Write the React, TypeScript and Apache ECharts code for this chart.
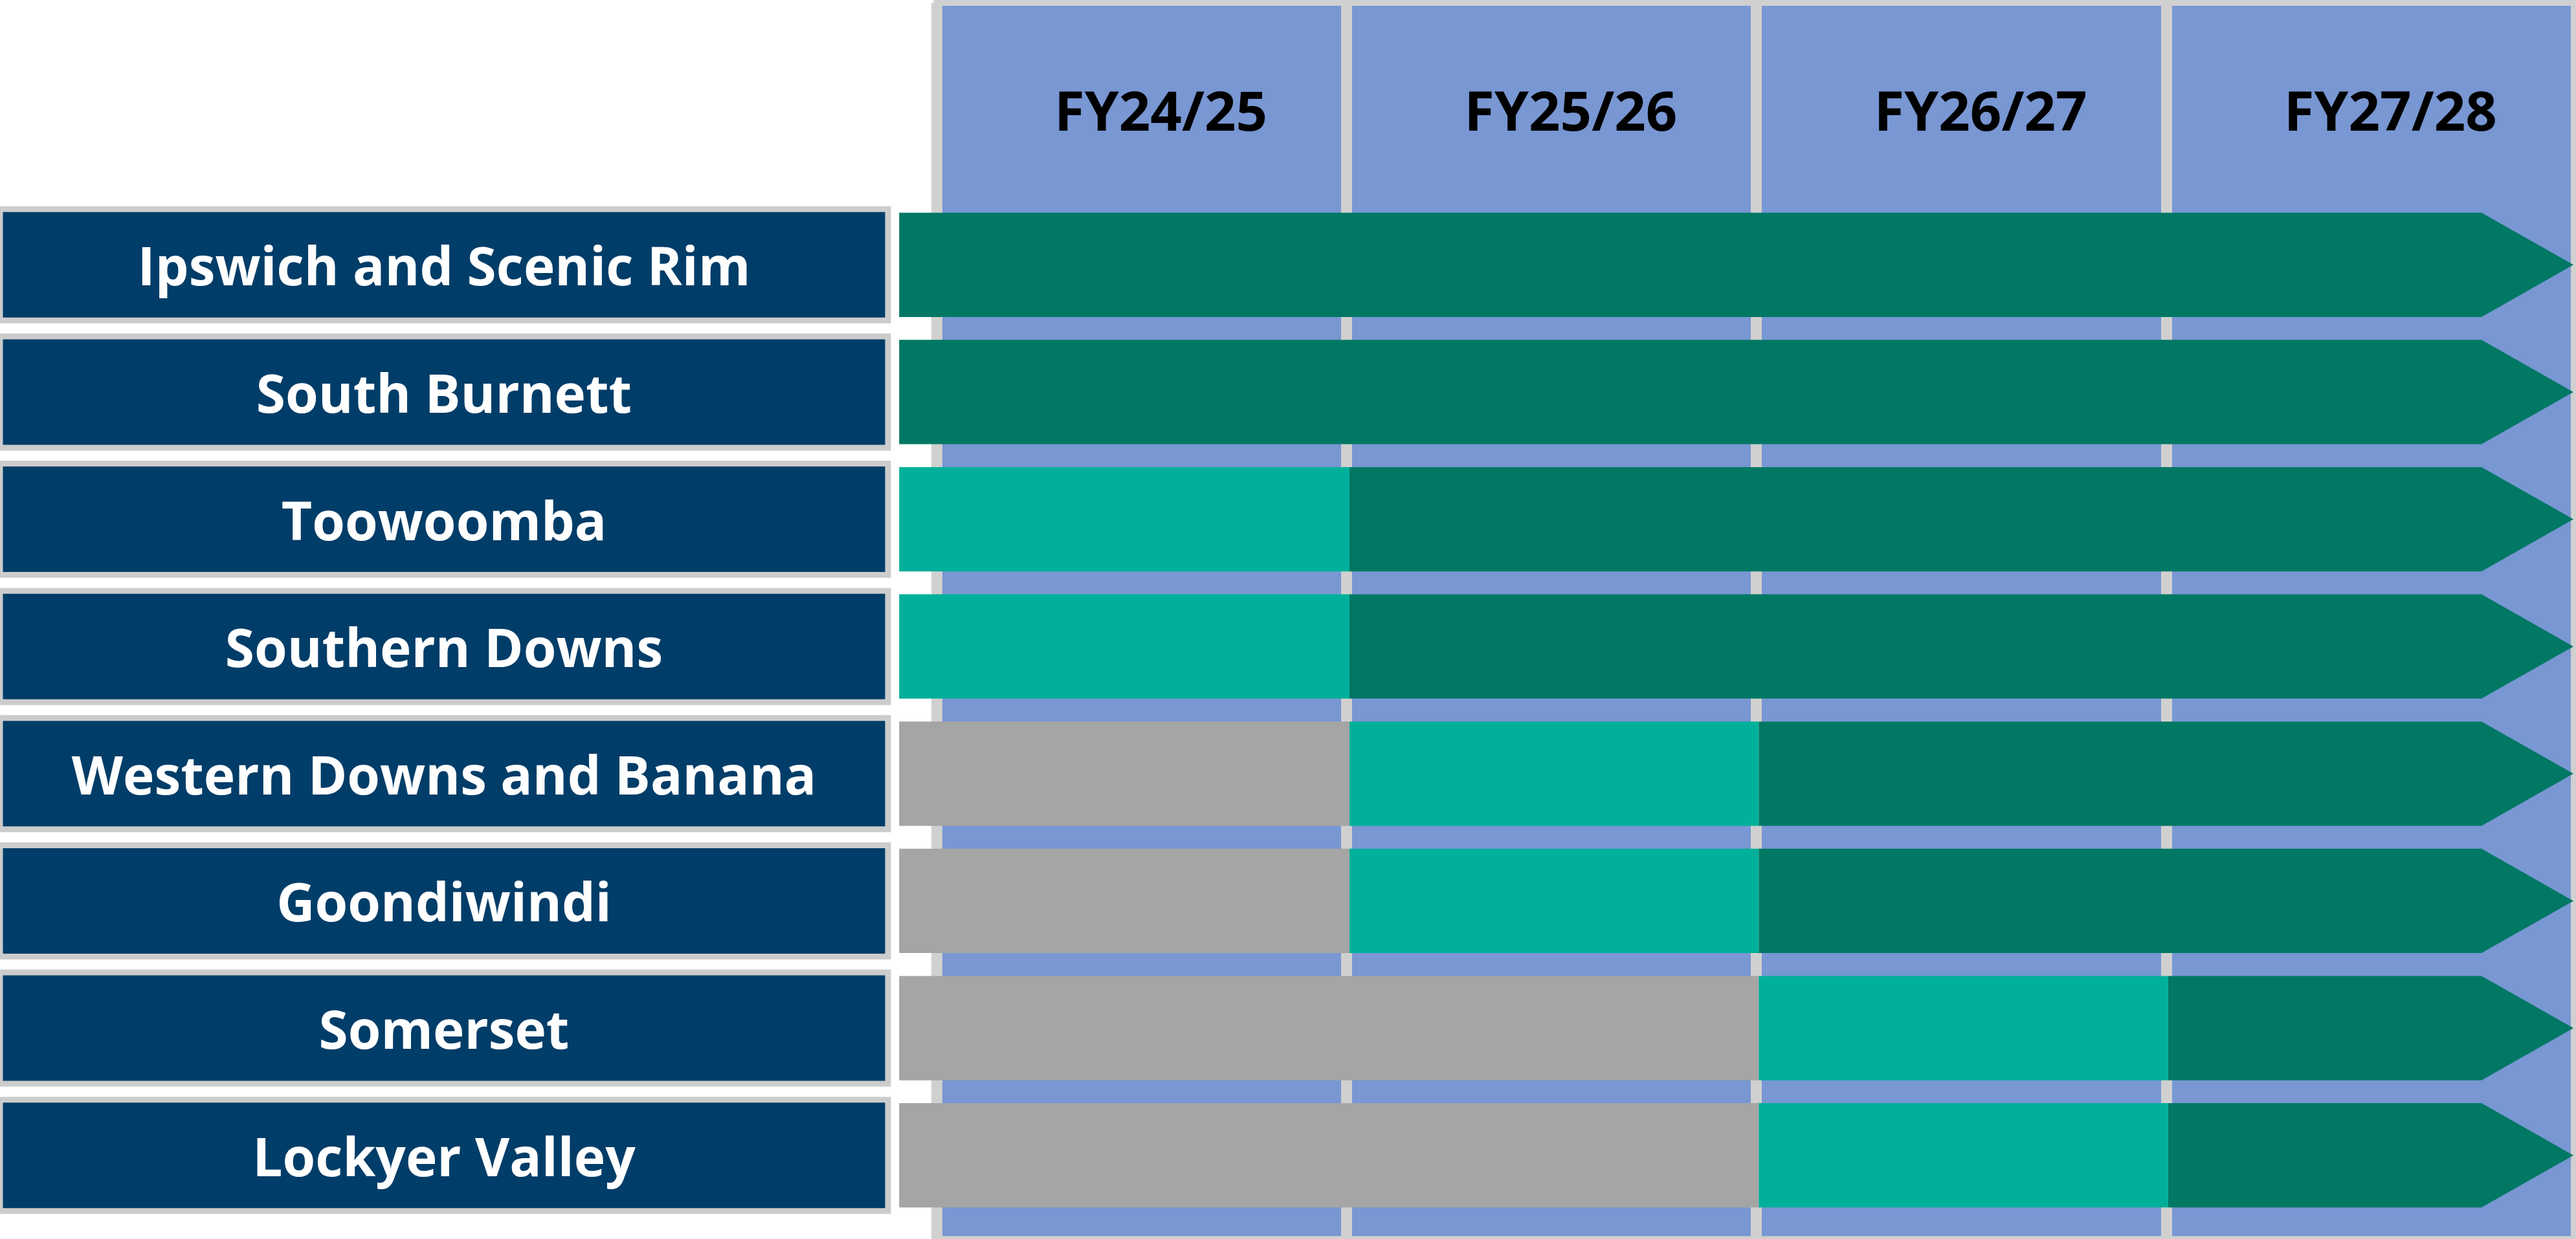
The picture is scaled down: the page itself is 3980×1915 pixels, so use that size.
import React, { useEffect, useRef } from "react";
import * as echarts from "echarts";

// ---- data ----
const regions = [
  "Ipswich and Scenic Rim",
  "South Burnett",
  "Toowoomba",
  "Southern Downs",
  "Western Downs and Banana",
  "Goondiwindi",
  "Somerset",
  "Lockyer Valley",
];
const years = ["FY24/25", "FY25/26", "FY26/27", "FY27/28"];
// timeline position, in financial-year columns (0 = start of FY24/25)
const rowStart = [-0.1, -0.1, -0.1, -0.1, -0.1, -0.1, -0.1, -0.1];
const greyEnd = [null, null, null, null, 1, 1, 2, 2];
const lightEnd = [null, null, 1, 1, 2, 2, 3, 3];
const darkEnd = [3.99, 3.99, 3.99, 3.99, 3.99, 3.99, 3.99, 3.99];

const NAVY = "#003D68";
const BOX_BORDER = "#CCCCCC";
const BLUE = "#7897D3";
const SEP = "#D0D0D0";
const GREY = "#A5A5A5";
const LIGHT = "#00B09A";
const DARK = "#007864";
const FONT = '"Open Sans", sans-serif';

function buildSegments() {
  const grey: number[][] = [];
  const light: number[][] = [];
  const dark: number[][] = [];
  regions.forEach((_, i) => {
    let cur = rowStart[i];
    if (greyEnd[i] != null) {
      grey.push([cur, greyEnd[i] as number, i]);
      cur = greyEnd[i] as number;
    }
    if (lightEnd[i] != null) {
      light.push([cur, lightEnd[i] as number, i]);
      cur = lightEnd[i] as number;
    }
    dark.push([cur, darkEnd[i], i]);
  });
  return { grey, light, dark };
}

function makeRender(color: string, arrow: boolean) {
  return (params: any, api: any) => {
    const s = api.value(0);
    const e = api.value(1);
    const r = api.value(2);
    const p0 = api.coord([s, r]);
    const p1 = api.coord([e, r]);
    const h = api.size([0, 1])[1] * 0.82;
    const y0 = p0[1] - h / 2;
    const y1 = p0[1] + h / 2;
    if (arrow) {
      const head = 142;
      const xr = Math.max(p0[0], p1[0] - head);
      return {
        type: "polygon",
        shape: {
          points: [
            [p0[0], y0],
            [xr, y0],
            [p1[0], p0[1]],
            [xr, y1],
            [p0[0], y1],
          ],
        },
        style: { fill: color },
      };
    }
    return {
      type: "rect",
      shape: { x: p0[0], y: y0, width: p1[0] - p0[0], height: h },
      style: { fill: color },
    };
  };
}

export default function App() {
  const ref = useRef<HTMLDivElement>(null);
  useEffect(() => {
    if (!ref.current) return;
    const chart = echarts.init(ref.current, null, { renderer: "svg" });
    const seg = buildSegments();
    const option: any = {
      animation: false,
      backgroundColor: "#ffffff",
      grid: [
        {
          left: 1389.25,
          right: 4,
          top: 311,
          bottom: 31,
          show: false,
          containLabel: false,
          outerBoundsMode: "none",
        },
        {
          left: 1447,
          right: 0,
          top: 4.5,
          bottom: 0,
          show: true,
          backgroundColor: BLUE,
          borderColor: SEP,
          borderWidth: 9,
          containLabel: false,
          outerBoundsMode: "none",
        },
      ],
      xAxis: [
        {
          gridIndex: 0,
          type: "value",
          min: -0.1,
          max: 3.99,
          show: false,
          splitLine: { show: false },
        },
        {
          gridIndex: 1,
          type: "category",
          data: years,
          position: "top",
          boundaryGap: true,
          axisLine: { show: false },
          axisTick: { show: false },
          splitLine: { show: true, interval: 0, lineStyle: { color: SEP, width: 17 } },
          axisLabel: {
            inside: true,
            interval: 0,
            margin: 164,
            verticalAlign: "middle",
            fontFamily: FONT,
            fontWeight: "bold",
            fontSize: 85,
            color: "#000000",
            padding: [0, 0, 0, 60],
          },
        },
      ],
      yAxis: [
        {
          gridIndex: 0,
          type: "category",
          data: regions,
          inverse: true,
          axisLine: { show: false },
          axisTick: { show: false },
          splitLine: { show: false },
          axisLabel: {
            interval: 0,
            margin: 21.75,
            formatter: (v: string) => "{box|" + v + "}",
            rich: {
              box: {
                width: 1363,
                height: 163,
                align: "center",
                verticalAlign: "middle",
                backgroundColor: NAVY,
                borderColor: BOX_BORDER,
                borderWidth: 9,
                color: "#ffffff",
                fontFamily: FONT,
                fontWeight: "bold",
                fontSize: 82,
              },
            },
          },
        },
        { gridIndex: 1, type: "value", min: 0, max: 1, show: false, splitLine: { show: false } },
      ],
      series: [
        {
          name: "Grey",
          type: "custom",
          xAxisIndex: 0,
          yAxisIndex: 0,
          renderItem: makeRender(GREY, false),
          encode: { x: [0, 1], y: 2 },
          data: seg.grey,
          clip: false,
          z: 3,
        },
        {
          name: "Light",
          type: "custom",
          xAxisIndex: 0,
          yAxisIndex: 0,
          renderItem: makeRender(LIGHT, false),
          encode: { x: [0, 1], y: 2 },
          data: seg.light,
          clip: false,
          z: 3,
        },
        {
          name: "Dark",
          type: "custom",
          xAxisIndex: 0,
          yAxisIndex: 0,
          renderItem: makeRender(DARK, true),
          encode: { x: [0, 1], y: 2 },
          data: seg.dark,
          clip: false,
          z: 3,
        },
      ],
    };
    chart.setOption(option);
    return () => chart.dispose();
  }, []);
  return (
    <div
      ref={ref}
      style={{ position: "absolute", left: 0, top: 0, width: 3980, height: 1915 }}
    />
  );
}
